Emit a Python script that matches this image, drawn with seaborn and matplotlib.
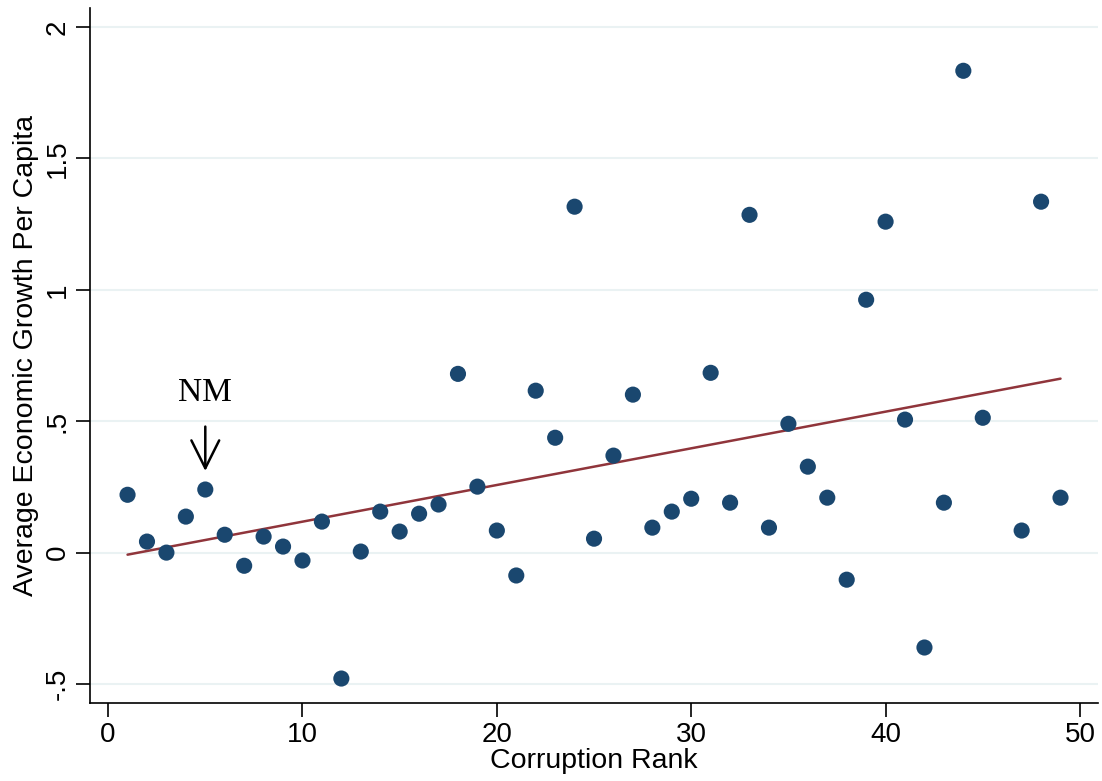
import numpy as np
import pandas as pd
import matplotlib
matplotlib.use("Agg")
import matplotlib.pyplot as plt
import seaborn as sns

rank = [1, 2, 3, 4, 5, 6, 7, 8, 9, 10, 11, 12, 13, 14, 15, 16, 17, 18, 19, 20,
        21, 22, 23, 24, 25, 26, 27, 28, 29, 30, 31, 32, 33, 34, 35, 36, 37, 38, 39, 40,
        41, 42, 43, 44, 45, 47, 48, 49]
growth = [0.220, 0.042, 0.000, 0.137, 0.240, 0.068, -0.050, 0.061, 0.023, -0.030,
          0.118, -0.479, 0.004, 0.156, 0.080, 0.148, 0.183, 0.680, 0.251, 0.084,
          -0.087, 0.616, 0.437, 1.316, 0.053, 0.369, 0.601, 0.095, 0.156, 0.205,
          0.684, 0.190, 1.285, 0.095, 0.490, 0.327, 0.209, -0.103, 0.962, 1.259,
          0.506, -0.361, 0.190, 1.833, 0.513, 0.084, 1.335, 0.209]
xticks = [0, 10, 20, 30, 40, 50]
yticks = [-0.5, 0, 0.5, 1, 1.5, 2]
ytick_labels = ["-.5", "0", ".5", "1", "1.5", "2"]

df = pd.DataFrame({"rank": rank, "growth": growth})

sns.set_style("white")
plt.rcParams['font.family'] = ['Liberation Sans', 'DejaVu Sans']
plt.rcParams['text.color'] = 'black'
plt.rcParams['axes.labelcolor'] = 'black'
plt.rcParams['xtick.color'] = 'black'
plt.rcParams['ytick.color'] = 'black'

fig = plt.figure(figsize=(11.02, 7.81), dpi=100)
ax = fig.add_axes([0.0817, 0.0999, 0.9147, 0.8899])

# fitted line
b, a = np.polyfit(df["rank"], df["growth"], 1)
xs = np.array([df["rank"].min(), df["rank"].max()])
ax.plot(xs, a + b * xs, color="#90353b", lw=1.8, zorder=2)

sns.scatterplot(data=df, x="rank", y="growth", ax=ax, color="#1a476f",
                s=135, edgecolor="none", zorder=3)

ax.set_xlim(-0.93, 50.93)
ax.set_ylim(-0.572, 2.072)
ax.set_xticks(xticks)
ax.set_xticklabels([str(t) for t in xticks], fontsize=20)
ax.set_yticks(yticks)
ax.set_yticklabels(ytick_labels, fontsize=20, rotation=90, va="center")
ax.grid(axis="y", color="#eaf2f3", lw=1.5)
ax.grid(axis="x", visible=False)
ax.set_axisbelow(True)

for s in ["top", "right"]:
    ax.spines[s].set_visible(False)
for s in ["left", "bottom"]:
    ax.spines[s].set_color("black")
    ax.spines[s].set_linewidth(1.2)
ax.tick_params(axis="both", direction="out", length=10, width=1.2, color="black",
               left=True, bottom=True, pad=4)

ax.set_xlabel("Corruption Rank", fontsize=20.5, labelpad=0)
ax.set_ylabel("Average Economic Growth Per Capita", fontsize=20.5, labelpad=4)

ax.annotate("", xy=(5, 0.30), xytext=(5, 0.49),
            arrowprops=dict(arrowstyle="->,head_length=0.5,head_width=0.25",
                            color="black", lw=1.8, mutation_scale=40))
ax.text(5, 0.61, "NM", ha="center", va="center", fontsize=24,
        family=["Liberation Serif", "DejaVu Serif"])

fig.savefig("out.png", dpi=100)
